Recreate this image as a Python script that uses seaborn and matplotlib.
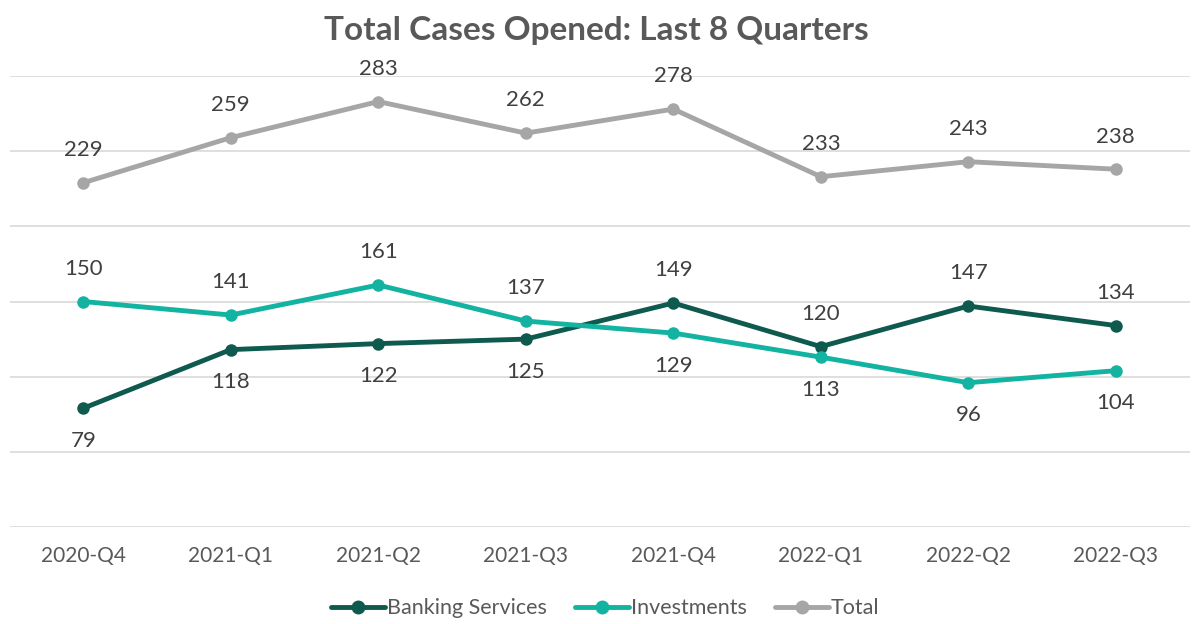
import numpy as np
import pandas as pd
import matplotlib
matplotlib.use("Agg")
import matplotlib.pyplot as plt
import seaborn as sns
from matplotlib.lines import Line2D

quarters = ["2020-Q4", "2021-Q1", "2021-Q2", "2021-Q3", "2021-Q4", "2022-Q1", "2022-Q2", "2022-Q3"]
banking = [79, 118, 122, 125, 149, 120, 147, 134]
investments = [150, 141, 161, 137, 129, 113, 96, 104]
total = [229, 259, 283, 262, 278, 233, 243, 238]
series_names = ["Banking Services", "Investments", "Total"]

# label placement: +1 above point, -1 below
banking_pos = [-1, -1, -1, -1, 1, 1, 1, 1]
invest_pos = [1, 1, 1, 1, -1, -1, -1, -1]
total_pos = [1] * 8

colors = {"Banking Services": "#0f5a4e", "Investments": "#12b3a1", "Total": "#a6a6a6"}

sns.set_theme(style="white")
plt.rcParams["font.family"] = ["Lato", "DejaVu Sans"]

df = pd.DataFrame({
    "quarter": quarters * 3,
    "x": list(range(len(quarters))) * 3,
    "value": banking + investments + total,
    "series": sum([[s] * len(quarters) for s in series_names], []),
})

fig = plt.figure(figsize=(11.92, 6.24), dpi=100)
ax = fig.add_axes([0.008, 0.1554, 0.99, 0.7228])

for y in range(0, 301, 50):
    ax.axhline(y, color="#d9d9d9", lw=1.2, zorder=0)

sns.lineplot(data=df, x="x", y="value", hue="series", palette=colors,
             marker="o", markersize=9, markeredgewidth=0, linewidth=3.5,
             ax=ax, legend=False)

text_col = "#404040"
for vals, pos in [(banking, banking_pos), (investments, invest_pos), (total, total_pos)]:
    for i, (v, p) in enumerate(zip(vals, pos)):
        ax.annotate(str(v), (i, v), xytext=(0, 23.5 * p), textcoords="offset points",
                    ha="center", va="center", fontsize=16, color=text_col)

ax.set_xlim(-0.5, 7.5)
ax.set_ylim(0, 300)
ax.set_xticks(range(len(quarters)))
ax.set_xticklabels(quarters, fontsize=15, color="#595959")
ax.tick_params(axis="x", length=0, pad=14)
ax.set_yticks([])
ax.set_xlabel("")
ax.set_ylabel("")
for sp in ax.spines.values():
    sp.set_visible(False)

fig.suptitle("Total Cases Opened: Last 8 Quarters", y=0.975, fontsize=24,
             fontweight="bold", color="#595959")

handles = [Line2D([], [], color=colors[s], lw=3.5, marker="o", markersize=9) for s in series_names]
fig.legend(handles, series_names, loc="center", bbox_to_anchor=(0.508, 0.025), ncol=3,
           frameon=False, fontsize=15.5, handlelength=2.5, handletextpad=0.1, columnspacing=1.3,
           labelcolor="#595959")

fig.savefig("out.png", dpi=100)
